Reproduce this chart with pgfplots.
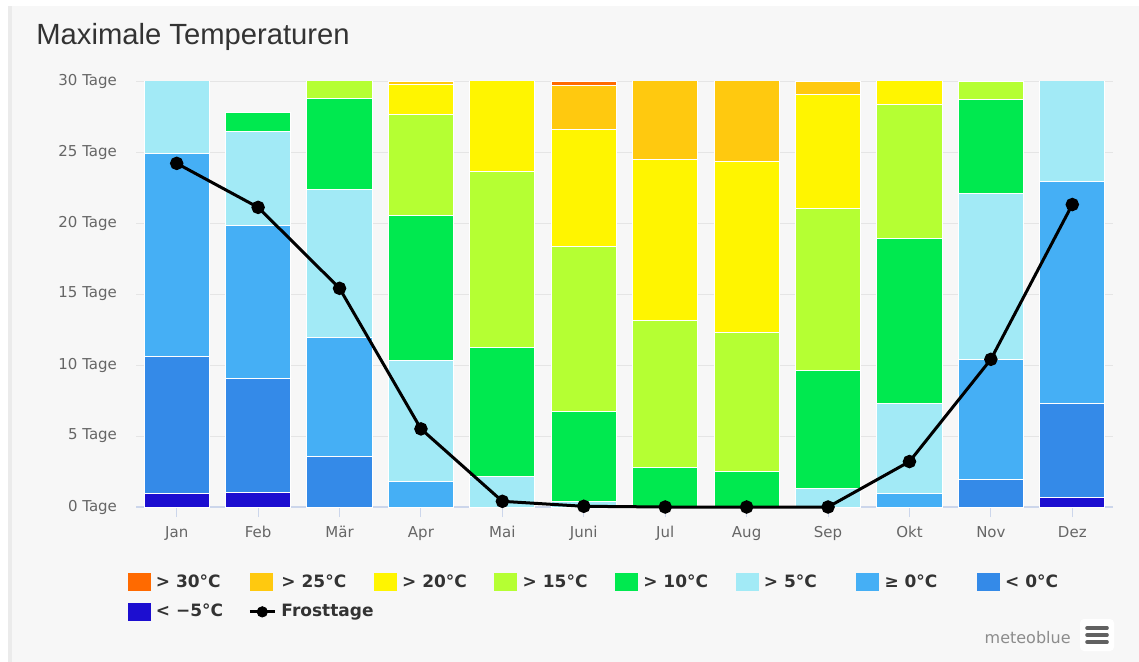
\documentclass[border=0pt]{standalone}
\usepackage{pgfplots}
\usepackage{pgfplotstable}
\pgfplotsset{compat=1.18}
\usepackage{fontspec}
\setmainfont{DejaVu Sans}
\newfontfamily\titlefont{Liberation Sans}

\definecolor{c30}{HTML}{FF6A00}
\definecolor{c25}{HTML}{FFC90F}
\definecolor{c20}{HTML}{FFF500}
\definecolor{c15}{HTML}{B5FF33}
\definecolor{c10}{HTML}{00E94F}
\definecolor{c5}{HTML}{A2EAF6}
\definecolor{c0}{HTML}{45AFF5}
\definecolor{cm0}{HTML}{348AE8}
\definecolor{cm5}{HTML}{1C0ED0}
\definecolor{panel}{HTML}{F7F7F7}
\definecolor{ticktext}{HTML}{666666}
\definecolor{xline}{HTML}{CCD6EB}

% days per month with maximum temperature in each class
\pgfplotstableread{
m  lt5  lt0  ge0   gt5   gt10  gt15  gt20  gt25  gt30  frost
0  0.96 9.67 14.23 6.14  0     0     0     0     0     24.2
1  1.04 8.02 10.74 6.63  1.37  0     0     0     0     21.1
2  0    3.54 8.41  10.40 6.43  2.22  0     0     0     15.4
3  0    0    1.83  8.52  10.21 7.09  2.10  0.25  0     5.5
4  0    0    0     2.18  9.04  12.38 7.40  0     0     0.4
5  0    0    0     0.40  6.36  11.62 8.17  3.10  0.35  0.05
6  0    0    0     0     2.79  10.33 11.37 6.51  0     0
7  0    0    0     0     2.49  9.79  12.06 6.66  0     0
8  0    0    0     1.27  8.31  11.42 8.04  0.96  0     0
9  0    0    0.92  6.38  11.64 9.37  2.69  0     0     3.2
10 0    1.97 8.43  11.69 6.64  1.27  0     0     0     10.4
11 0.66 6.64 15.61 8.09  0     0     0     0     0     21.3
}\data

\newcommand{\lt}[1]{\makebox[44pt][l]{#1}}

\begin{document}
\begin{tikzpicture}
% background panel (coordinates in pixels of the reference)
\begin{scope}[x=0.5pt,y=-0.5pt]
  \fill[white] (0,0) rectangle (1139,662);
  \fill[panel] (8,6) rectangle (1139,662);
  \fill[black!8] (8,6) rectangle (12,662);
  \node[anchor=base west, inner sep=0pt, text=black!80, font=\titlefont\fontsize{14.6}{17}\selectfont] at (36,45) {Maximale Temperaturen};
  \node[anchor=base east, inner sep=0pt, text=black!45, font=\fontsize{8}{9}\selectfont] at (1071,643) {meteoblue};
  \fill[white, rounded corners=2pt] (1080,619) rectangle (1114,651);
  \foreach \yy in {628,635,642}
    \draw[black!62, line width=1.8pt, line cap=round] (1087,\yy) -- (1107,\yy);
\end{scope}

\begin{axis}[
  at={(68pt,-253.5pt)}, anchor=south west,
  scale only axis, width=488.5pt, height=213pt,
  ybar stacked, bar width=0.8,
  xmin=-0.5, xmax=11.5, ymin=0, ymax=30,
  axis x line*=bottom, axis y line*=left,
  y axis line style={draw=none},
  x axis line style={draw=xline, line width=0.6pt},
  xtick={0,...,11},
  xticklabels={Jan,Feb,Mär,Apr,Mai,Juni,Jul,Aug,Sep,Okt,Nov,Dez},
  xtick align=outside, major tick length=5pt,
  xtick style={draw=xline, line width=0.5pt},
  ytick={0,5,...,30},
  yticklabels={0 Tage,5 Tage,10 Tage,15 Tage,20 Tage,25 Tage,30 Tage},
  ytick style={draw=none},
  ymajorgrids, grid style={draw=black!10, line width=0.5pt},
  ticklabel style={text=ticktext, font=\fontsize{7.5}{9}\selectfont},
  yticklabel style={xshift=-6pt},
  xticklabel style={yshift=-1pt},
  every axis plot/.append style={draw=white, line width=0.5pt},
]
\addplot[fill=cm5] table[x=m,y=lt5] {\data};
\addplot[fill=cm0] table[x=m,y=lt0] {\data};
\addplot[fill=c0] table[x=m,y=ge0] {\data};
\addplot[fill=c5] table[x=m,y=gt5] {\data};
\addplot[fill=c10] table[x=m,y=gt10] {\data};
\addplot[fill=c15] table[x=m,y=gt15] {\data};
\addplot[fill=c20] table[x=m,y=gt20] {\data};
\addplot[fill=c25] table[x=m,y=gt25] {\data};
\addplot[fill=c30] table[x=m,y=gt30] {\data};
\end{axis}

\begin{axis}[
  at={(68pt,-253.5pt)}, anchor=south west,
  scale only axis, width=488.5pt, height=213pt,
  xmin=-0.5, xmax=11.5, ymin=0, ymax=30,
  hide axis, clip=false,
  legend columns=8,
  legend style={at={(-0.0085,-0.156)}, anchor=north west, draw=none, fill=none,
    inner sep=0pt, outer sep=0pt, row sep=6pt,
    font=\bfseries\fontsize{8.5}{10}\selectfont, text=black!80,
    nodes={inner sep=0pt},
    /tikz/every odd column/.append style={column sep=2.6pt},
    /tikz/every even column/.append style={column sep=2.2pt}},
  legend cell align=left,
  box legend/.style={legend image code/.code={\fill[##1, draw=none] (0pt,-4.4pt) rectangle (11.5pt,4.4pt);}},
]
\addplot[black, line width=1.5pt, mark=*, mark size=2.6pt, mark options={fill=black}, forget plot]
  table[x=m,y=frost] {\data};
\addlegendimage{box legend, fill=c30}
\addlegendentry{\lt{> 30°C}}
\addlegendimage{box legend, fill=c25}
\addlegendentry{\lt{> 25°C}}
\addlegendimage{box legend, fill=c20}
\addlegendentry{\lt{> 20°C}}
\addlegendimage{box legend, fill=c15}
\addlegendentry{\lt{> 15°C}}
\addlegendimage{box legend, fill=c10}
\addlegendentry{\lt{> 10°C}}
\addlegendimage{box legend, fill=c5}
\addlegendentry{\lt{> 5°C}}
\addlegendimage{box legend, fill=c0}
\addlegendentry{\lt{≥ 0°C}}
\addlegendimage{box legend, fill=cm0}
\addlegendentry{\lt{< 0°C}}
\addlegendimage{box legend, fill=cm5}
\addlegendentry{\lt{< −5°C}}
\addlegendimage{legend image code/.code={\draw[black, line width=1.5pt] (0pt,0pt) -- (12.5pt,0pt); \fill[black] (6.25pt,0pt) circle (2.6pt);}}
\addlegendentry{\lt{Frosttage}}
\end{axis}
\end{tikzpicture}
\end{document}
